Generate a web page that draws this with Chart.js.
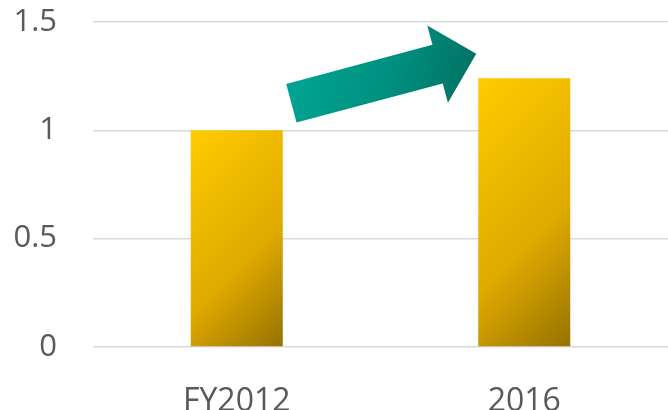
<!DOCTYPE html>
<html>
<head>
<meta charset="utf-8">
<script src="https://cdn.jsdelivr.net/npm/chart.js@4"></script>
<style>
  html, body { margin: 0; padding: 0; background: #fff; }
  #wrap { width: 668px; height: 410px; }
</style>
</head>
<body>
<div id="wrap"><canvas id="grafico"></canvas></div>
<script>
// dados do gráfico
const categorias = ['FY2012', '2016'];
const valores = [1, 1.24];
const ticksY = [0, 0.5, 1, 1.5];

// seta: posição em unidades de dados (índice da categoria, valor)
const setaInicio = { x: 0.19, y: 1.125 };
const setaFim = { x: 0.833, y: 1.353 };

const larguraBarra = 0.32;

function gradienteBarra(context) {
    const chart = context.chart;
    const x = chart.scales.x, y = chart.scales.y;
    if (!chart.chartArea || !x || !y) return '#e0ae00';
    const i = context.dataIndex;
    const passo = x.getPixelForValue(1) - x.getPixelForValue(0);
    const w = passo * larguraBarra;
    const cx = x.getPixelForValue(i);
    const topo = y.getPixelForValue(valores[i]);
    const base = y.getPixelForValue(0);
    if (!isFinite(cx) || !isFinite(topo)) return '#e0ae00';
    // gradiente a 45 graus, do canto superior esquerdo ao inferior direito
    const h = base - topo;
    const d = (w + h) / 2;
    const esq = cx - w / 2;
    const g = chart.ctx.createLinearGradient(esq, topo, esq + d, topo + d);
    g.addColorStop(0, '#ffcc00');
    g.addColorStop(0.6, '#dfaa00');
    g.addColorStop(1, '#957200');
    return g;
}

const pluginSeta = {
    id: 'seta',
    afterDatasetsDraw(chart) {
        const { ctx, scales: { x, y } } = chart;
        const x0 = x.getPixelForValue(0), x1 = x.getPixelForValue(1);
        const px = v => x0 + (x1 - x0) * v;
        const ax = px(setaInicio.x), ay = y.getPixelForValue(setaInicio.y);
        const bx = px(setaFim.x), by = y.getPixelForValue(setaFim.y);
        const len = Math.hypot(bx - ax, by - ay);
        const ux = (bx - ax) / len, uy = (by - ay) / len;
        const nx = -uy, ny = ux;
        const haste = 20, cabeca = 40, compCabeca = 40;
        const jx = bx - ux * compCabeca, jy = by - uy * compCabeca;

        ctx.save();
        ctx.beginPath();
        ctx.moveTo(ax + nx * haste, ay + ny * haste);
        ctx.lineTo(jx + nx * haste, jy + ny * haste);
        ctx.lineTo(jx + nx * cabeca, jy + ny * cabeca);
        ctx.lineTo(bx, by);
        ctx.lineTo(jx - nx * cabeca, jy - ny * cabeca);
        ctx.lineTo(jx - nx * haste, jy - ny * haste);
        ctx.lineTo(ax - nx * haste, ay - ny * haste);
        ctx.closePath();
        const g = ctx.createLinearGradient(ax - 10, ay - 60, bx, by + 50);
        g.addColorStop(0, '#00a896');
        g.addColorStop(0.55, '#009080');
        g.addColorStop(1, '#006e60');
        ctx.fillStyle = g;
        ctx.fill();
        ctx.restore();
    }
};

const ctx = document.getElementById('grafico').getContext('2d');

const grafico = new Chart(ctx, {
    type: 'bar',
    data: {
        labels: categorias,
        datasets: [{
            data: valores,
            backgroundColor: gradienteBarra,
            borderWidth: 0,
            categoryPercentage: 1,
            barPercentage: larguraBarra
        }]
    },
    options: {
        responsive: true,
        maintainAspectRatio: false,
        animation: false,
        layout: { padding: { left: 0, right: -3, top: 0, bottom: 0 } },
        plugins: {
            legend: { display: false },
            tooltip: { enabled: false }
        },
        scales: {
            x: {
                grid: { display: false },
                border: { display: false },
                afterFit: axis => { axis.height = 63; },
                ticks: {
                    color: '#595959',
                    padding: 28,
                    font: { family: 'Open Sans', size: 32 }
                }
            },
            y: {
                min: 0,
                max: 1.5,
                afterBuildTicks: axis => { axis.ticks = ticksY.map(v => ({ value: v })); },
                afterFit: axis => {
                    axis.width = 93;
                    axis.paddingTop = 22;
                    axis.paddingBottom = 0;
                },
                grid: { color: '#d9d9d9', lineWidth: 1.5, drawTicks: false },
                border: { display: false },
                ticks: {
                    color: '#595959',
                    padding: 36,
                    callback: v => String(v),
                    font: { family: 'Open Sans', size: 31 }
                }
            }
        }
    },
    plugins: [pluginSeta]
});
</script>
</body>
</html>
